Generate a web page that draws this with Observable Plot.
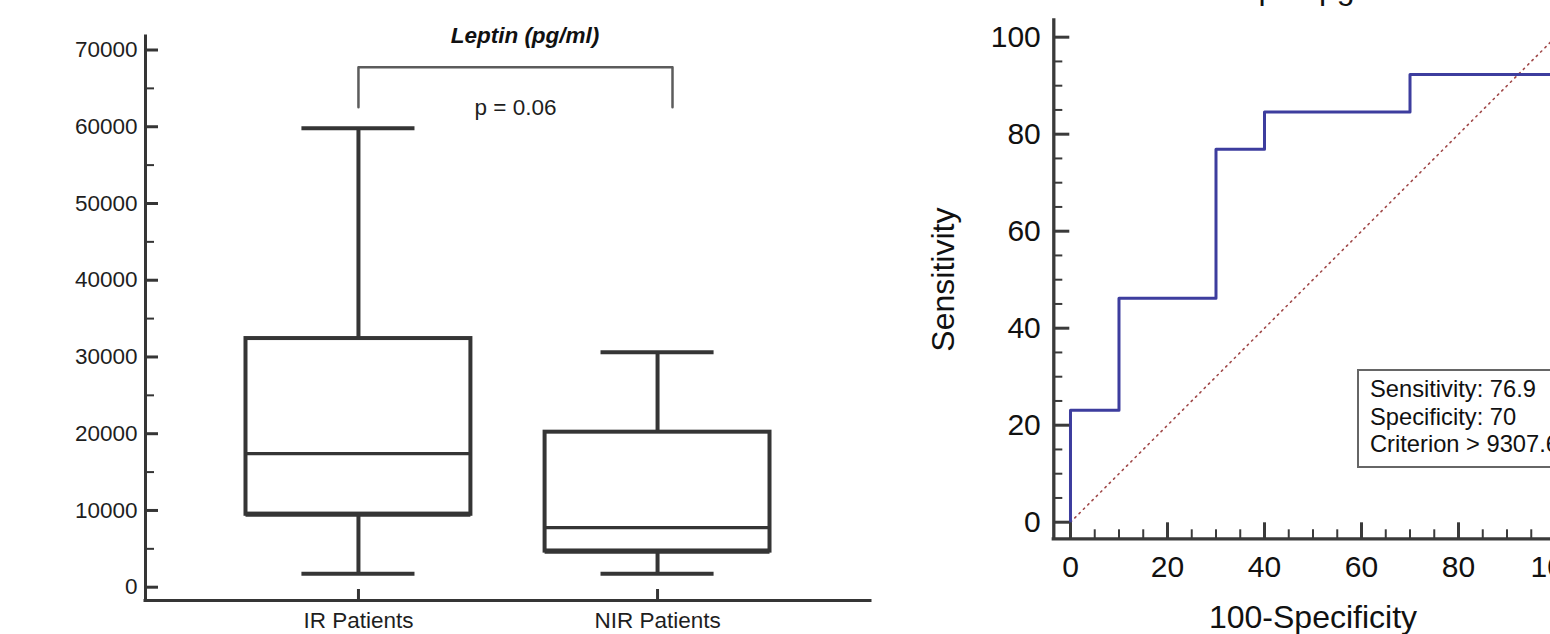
<!DOCTYPE html>
<html>
<head>
<meta charset="utf-8">
<script src="https://cdn.jsdelivr.net/npm/d3@7"></script>
<script src="https://cdn.jsdelivr.net/npm/@observablehq/plot@0.6"></script>
<style>
  html, body { margin: 0; padding: 0; background: #fff; overflow: hidden; width: 1550px; height: 634px; }
  #wrap { position: relative; width: 1550px; height: 634px; overflow: hidden; }
  #left { position: absolute; left: 0; top: 0; width: 900px; height: 634px; }
  #right { position: absolute; left: 900px; top: 0; width: 760px; height: 634px; }
  #legendBox {
    position: absolute; left: 1357px; top: 369px; width: 320px; height: 99px;
    box-sizing: border-box; border: 2px solid #666; background: #fff;
    padding: 5px 0 0 11px;
    font-family: "Liberation Sans", Arial, sans-serif; font-size: 23.7px; line-height: 27.5px; color: #111;
    white-space: nowrap;
  }
</style>
</head>
<body>
<div id="wrap">
  <div id="left"></div>
  <div id="right"></div>
  <div id="legendBox"></div>
</div>
<script>
// ---------- Left panel data: box plot of leptin ----------
const groups      = ["IR Patients", "NIR Patients"];
const whiskerLow  = [1750, 1750];
const q1          = [9500, 4700];
const median      = [17400, 7750];
const q3          = [32400, 20200];
const whiskerHigh = [59800, 30600];
const leftYMajor  = [0, 10000, 20000, 30000, 40000, 50000, 60000, 70000];
const leftYMinor  = [5000, 15000, 25000, 35000, 45000, 55000, 65000];
const leftTitle   = "Leptin (pg/ml)";
const pValueText  = "p = 0.06";

// ---------- Right panel data: ROC curve ----------
const rocFPR   = [0, 0, 10, 10, 30, 30, 40, 40, 70, 70, 100, 100];
const rocTPR   = [0, 23.1, 23.1, 46.2, 46.2, 76.9, 76.9, 84.6, 84.6, 92.3, 92.3, 100];
const chance   = [0, 100];
const rocXMajor = [0, 20, 40, 60, 80, 100];
const rocXMinor = [5, 10, 15, 25, 30, 35, 45, 50, 55, 65, 70, 75, 85, 90, 95];
const rocYMajor = [0, 20, 40, 60, 80, 100];
const rocYMinor = [5, 10, 15, 25, 30, 35, 45, 50, 55, 65, 70, 75, 85, 90, 95];
const rocTitle  = "Leptin pg/ml";
const rocXLabel = "100-Specificity";
const rocYLabel = "Sensitivity";
const legendLines = ["Sensitivity: 76.9", "Specificity: 70", "Criterion > 9307.6"];

const font = "'Liberation Sans', Arial, sans-serif";
const ink = "#353535";

// ---------- Left panel ----------
const boxes = groups.map((g, i) => ({
  i, g, lo: whiskerLow[i], q1: q1[i], med: median[i], q3: q3[i], hi: whiskerHigh[i]
}));
const BOX = 0.376, CAP = 0.189;
const lxDom = [-0.712, 1.712];
const lyDom = [-1733, 71759];
const bracket = {from: 0, to: 1.05, top: 67760, leg: 62550};
const bracketPts = [
  {x: bracket.from, y: bracket.leg}, {x: bracket.from, y: bracket.top},
  {x: bracket.to, y: bracket.top}, {x: bracket.to, y: bracket.leg}
];

const left = Plot.plot({
  width: 900, height: 634,
  marginLeft: 145, marginRight: 30, marginTop: 36, marginBottom: 34,
  style: {fontFamily: font, fontSize: "22.5px", color: "#1e1e1e", background: "white", maxWidth: "none"},
  x: {domain: lxDom},
  y: {domain: lyDom},
  marks: [
    Plot.ruleX(boxes, {x: "i", y1: "q3", y2: "hi", stroke: ink, strokeWidth: 4}),
    Plot.ruleX(boxes, {x: "i", y1: "lo", y2: "q1", stroke: ink, strokeWidth: 4}),
    Plot.ruleY(boxes, {y: "hi", x1: d => d.i - CAP, x2: d => d.i + CAP, stroke: ink, strokeWidth: 4}),
    Plot.ruleY(boxes, {y: "lo", x1: d => d.i - CAP, x2: d => d.i + CAP, stroke: ink, strokeWidth: 4}),
    Plot.rect(boxes, {x1: d => d.i - BOX, x2: d => d.i + BOX, y1: "q1", y2: "q3", fill: "white", stroke: ink, strokeWidth: 4}),
    Plot.ruleY(boxes, {y: "q1", x1: d => d.i - BOX, x2: d => d.i + BOX, stroke: ink, strokeWidth: 5}),
    Plot.ruleY(boxes, {y: "med", x1: d => d.i - BOX, x2: d => d.i + BOX, stroke: ink, strokeWidth: 3.3}),
    Plot.line(bracketPts, {x: "x", y: "y", stroke: "#5c5c5c", strokeWidth: 2.5}),
    Plot.text([pValueText], {x: (bracket.from + bracket.to) / 2, y: 61556, lineAnchor: "bottom", fontSize: 22.5, fill: "#1e1e1e"}),
    Plot.text([leftTitle], {frameAnchor: "top", dx: 17, dy: 6.5, lineAnchor: "bottom", fontSize: 22.5, fontWeight: "bold", fontStyle: "italic", fill: "#111"}),
    Plot.axisY(leftYMajor, {tickSize: -13, tickPadding: 21, tickFormat: d => `${d}`, stroke: ink, strokeWidth: 3, fontSize: 22.5, label: null}),
    Plot.axisY(leftYMinor, {tickSize: -9, tickPadding: 21, tickFormat: () => "", stroke: ink, strokeWidth: 2, label: null}),
    Plot.axisX([0, 1], {tickSize: -11, tickPadding: 22.7, tickFormat: i => groups[i], stroke: ink, strokeWidth: 3, fontSize: 22.5, label: null}),
    Plot.ruleX([lxDom[0]], {stroke: ink, strokeWidth: 3, strokeLinecap: "square"}),
    Plot.ruleY([lyDom[0]], {stroke: ink, strokeWidth: 3, strokeLinecap: "square"})
  ]
});
document.getElementById("left").appendChild(left);

// ---------- Right panel ----------
const roc = rocFPR.map((x, i) => ({x, y: rocTPR[i]}));
const diag = chance.map(v => ({x: v, y: v}));
const rxDom = [-3.44, 103.44];
const ryDom = [-3.42, 103.44];
const ink2 = "#3a3a3a";

const right = Plot.plot({
  width: 760, height: 634,
  marginLeft: 153.3, marginRight: 88.3, marginTop: 20, marginBottom: 95.7,
  style: {fontFamily: font, fontSize: "30px", color: "#111", background: "white", maxWidth: "none"},
  x: {domain: rxDom},
  y: {domain: ryDom},
  marks: [
    Plot.line(diag, {x: "x", y: "y", stroke: "#a04848", strokeWidth: 1.6, strokeDasharray: "1.5 4.6"}),
    Plot.line(roc, {x: "x", y: "y", stroke: "#3d3d9e", strokeWidth: 3}),
    Plot.axisY(rocYMajor, {tickSize: -16, tickPadding: 29, stroke: ink2, strokeWidth: 3, fontSize: 30, label: null}),
    Plot.axisY(rocYMinor, {tickSize: -9, tickPadding: 29, tickFormat: () => "", stroke: ink2, strokeWidth: 2, label: null}),
    Plot.axisX(rocXMajor, {tickSize: -16, tickPadding: 32.7, stroke: ink2, strokeWidth: 3, fontSize: 30, label: null}),
    Plot.axisX(rocXMinor, {tickSize: -9, tickPadding: 32.7, tickFormat: () => "", stroke: ink2, strokeWidth: 2, label: null}),
    Plot.ruleX([rxDom[0]], {stroke: ink2, strokeWidth: 3.3, strokeLinecap: "square"}),
    Plot.ruleY([ryDom[0]], {stroke: ink2, strokeWidth: 3.3, strokeLinecap: "square"}),
    Plot.text([rocXLabel], {frameAnchor: "bottom", dy: 88.7, lineAnchor: "bottom", fontSize: 32}),
    Plot.text([rocYLabel], {frameAnchor: "left", textAnchor: "middle", dx: -100.3, rotate: -90, lineAnchor: "bottom", fontSize: 32}),
    Plot.text([rocTitle], {frameAnchor: "top", dx: -3, dy: -22, lineAnchor: "bottom", fontSize: 32})
  ]
});
document.getElementById("right").appendChild(right);

// ---------- Criterion box ----------
const lb = document.getElementById("legendBox");
legendLines.forEach(t => {
  const d = document.createElement("div");
  d.textContent = t;
  lb.appendChild(d);
});
</script>
</body>
</html>
